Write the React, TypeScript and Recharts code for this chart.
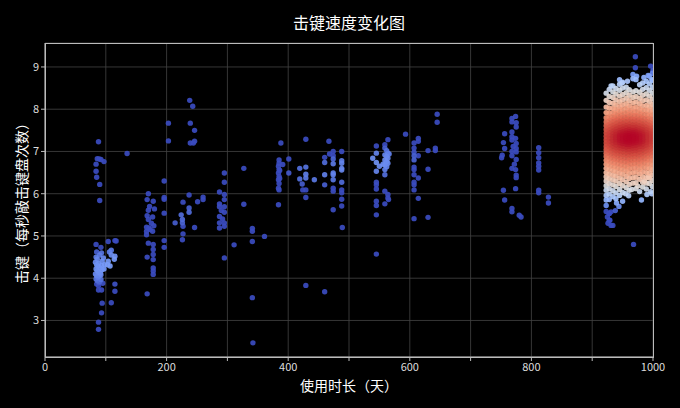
import React from 'react';
import { ScatterChart, Scatter, XAxis, YAxis, CartesianGrid } from 'recharts';

type P = [number, number];

// 使用时长（天）, 击键（每秒敲击键盘次数）
const early: P[] = [
  [84, 6.70], [84, 6.53], [85, 6.39], [86, 6.83], [88, 7.23], [89, 6.82], [92, 6.81], [97, 6.76], [90, 6.22], [90, 5.84],
  [84, 4.80], [85, 4.62], [84, 4.50], [86, 4.45], [83, 4.38], [85, 4.32], [87, 4.28], [84, 4.22], [86, 4.18], [88, 4.14],
  [83, 4.10], [85, 4.06], [87, 4.02], [84, 3.98], [86, 3.94], [89, 3.90], [85, 3.86], [88, 4.35], [90, 4.25], [91, 4.12],
  [89, 4.05], [92, 3.97], [90, 3.92], [88, 3.82], [92, 4.73], [93, 4.60], [94, 4.40], [93, 4.30], [94, 4.20], [92, 4.08],
  [95, 3.88], [93, 3.72], [88, 3.72], [94, 3.41], [93, 3.18], [88, 2.96], [88, 2.79], [90, 4.55], [96, 4.48], [97, 4.22],
  [98, 4.32], [104, 4.87], [106, 4.62], [104, 4.40], [109, 4.66], [109, 4.55], [109, 3.42], [115, 4.89], [115, 4.52],
  [114, 4.45], [115, 3.86], [115, 3.69], [135, 6.95], [103, 4.32], [107, 4.29], [117, 4.88],
];

const halfYear: P[] = [
  [170, 6.00], [168, 5.86], [178, 5.82], [170, 5.61], [180, 5.64], [168, 5.48], [177, 5.45], [170, 5.39], [179, 5.24],
  [167, 5.21], [171, 5.19], [167, 5.11], [177, 5.11], [167, 5.03], [170, 4.83], [178, 4.80], [178, 4.68], [168, 4.50],
  [178, 4.56], [178, 4.44], [178, 4.24], [178, 4.17], [178, 4.09], [168, 3.63], [175, 5.30], [172, 5.70], [173, 5.15],
  [196, 6.30], [196, 5.91], [196, 5.87], [196, 5.54], [196, 4.89], [196, 4.73], [203, 7.67], [203, 7.25],
  [214, 5.31], [224, 5.50], [226, 5.39], [226, 5.31], [227, 5.23], [227, 5.05], [226, 4.91], [227, 5.80], [237, 5.97],
  [237, 5.66], [237, 5.56], [251, 5.81], [260, 5.92], [260, 5.86], [246, 5.20], [239, 7.67], [246, 7.50], [239, 7.20],
  [246, 7.24], [244, 7.20], [238, 8.21], [243, 8.07],
];

const firstYear: P[] = [
  [295, 6.49], [295, 6.27], [287, 6.04], [295, 5.98], [295, 5.86], [287, 5.76], [287, 5.69], [295, 5.69], [295, 5.56],
  [287, 5.46], [287, 5.31], [287, 5.19], [295, 5.31], [295, 5.23], [295, 4.48], [290, 5.60], [292, 5.40],
  [327, 6.60], [327, 5.75], [311, 4.79], [341, 5.18], [341, 5.11], [341, 4.87], [341, 3.54], [342, 2.47], [361, 4.99],
  [385, 6.80], [385, 6.72], [384, 6.65], [385, 6.57], [384, 6.49], [385, 6.41], [384, 6.33], [385, 6.24], [384, 6.13],
  [385, 6.09], [384, 5.74], [388, 7.20], [391, 6.69], [386, 6.36], [386, 6.55], [401, 6.82], [401, 6.49],
  [419, 6.60], [419, 6.35], [423, 6.23], [424, 6.09], [429, 6.09], [429, 6.63], [429, 6.46], [429, 6.37], [429, 5.91],
  [429, 7.29], [429, 3.83], [443, 6.33], [460, 3.68], [460, 6.86], [460, 6.74], [460, 6.45], [460, 6.21], [467, 7.24],
  [468, 6.94], [474, 7.00], [474, 6.90], [474, 6.82], [474, 6.71], [474, 6.49], [474, 6.45], [474, 6.33], [474, 6.13],
  [474, 6.06], [474, 5.62], [488, 7.00], [488, 6.78], [488, 6.72], [488, 6.60], [488, 6.56], [488, 6.27], [488, 6.09],
  [488, 6.02], [488, 5.87], [488, 5.71], [489, 5.20],
];

const secondYear: P[] = [
  [545, 7.13], [545, 6.96], [539, 6.84], [545, 6.74], [550, 6.65], [545, 6.53], [545, 6.27], [545, 6.21], [545, 6.11],
  [545, 5.82], [545, 5.72], [545, 5.50], [545, 4.57], [564, 7.28], [559, 7.16], [559, 7.08], [562, 7.02], [564, 6.96],
  [559, 6.92], [562, 6.88], [564, 6.84], [559, 6.80], [562, 6.76], [564, 6.72], [559, 6.68], [562, 6.64], [559, 6.57],
  [559, 6.45], [559, 6.06], [564, 5.98], [564, 5.90], [565, 5.86], [559, 5.76], [556, 6.70], [566, 6.94],
  [607, 7.20], [607, 7.08], [607, 6.98], [607, 6.80], [607, 6.63], [607, 6.57], [607, 6.27], [607, 6.21], [607, 6.09],
  [607, 5.41], [607, 6.90], [607, 6.45], [614, 7.31], [614, 7.24], [614, 6.90], [614, 6.37], [614, 5.89], [593, 7.41],
  [630, 7.02], [630, 6.58], [630, 5.44], [642, 7.08], [642, 7.02], [645, 7.88], [645, 7.69],
  [774, 7.83], [768, 7.78], [768, 7.70], [775, 7.68], [775, 7.58], [756, 7.42], [768, 7.46], [768, 7.35], [768, 7.27],
  [774, 7.31], [775, 7.19], [775, 7.07], [754, 7.21], [756, 7.07], [752, 6.91], [751, 6.85], [775, 6.99], [775, 6.81],
  [768, 6.60], [774, 6.57], [775, 6.44], [775, 6.38], [774, 6.12], [754, 6.08], [756, 5.85], [768, 5.65], [768, 5.57],
  [780, 5.49], [783, 5.45], [768, 7.00], [770, 7.12], [768, 6.90], [772, 6.70],
  [812, 7.09], [812, 6.97], [812, 6.85], [812, 6.73], [812, 6.65], [812, 6.56], [812, 6.08], [812, 6.02], [828, 5.92],
  [828, 5.78],
];

const recentDays = [923, 928, 934, 939, 945, 950, 956, 961, 967, 972, 978, 983, 989, 994, 999];
const recentSpeeds: number[][] = [
  [8.38, 8.21, 8.05, 7.92, 7.80, 7.70, 7.61, 7.52, 7.44, 7.36, 7.28, 7.20, 7.12, 7.04, 6.96, 6.88, 6.79, 6.70, 6.60, 6.50, 6.40, 6.30, 6.19, 6.08, 5.96, 5.85, 5.72, 5.58],
  [8.47, 8.30, 8.16, 8.03, 7.91, 7.81, 7.72, 7.64, 7.57, 7.49, 7.42, 7.35, 7.27, 7.19, 7.11, 7.03, 6.95, 6.86, 6.77, 6.68, 6.58, 6.47, 6.36, 6.24, 6.12, 5.99, 5.86, 5.53, 5.37],
  [8.55, 8.41, 8.28, 8.14, 8.02, 7.92, 7.83, 7.75, 7.68, 7.61, 7.54, 7.47, 7.41, 7.34, 7.27, 7.21, 7.14, 7.07, 6.99, 6.91, 6.83, 6.74, 6.65, 6.55, 6.44, 6.33, 6.21, 6.07, 5.93, 5.25],
  [8.49, 8.36, 8.22, 8.10, 7.99, 7.89, 7.80, 7.72, 7.65, 7.58, 7.52, 7.46, 7.40, 7.34, 7.28, 7.22, 7.16, 7.10, 7.03, 6.96, 6.89, 6.81, 6.72, 6.63, 6.53, 6.42, 6.30, 6.17, 6.02, 5.88],
  [8.59, 8.45, 8.31, 8.18, 8.06, 7.95, 7.85, 7.77, 7.69, 7.62, 7.56, 7.50, 7.44, 7.38, 7.33, 7.27, 7.21, 7.15, 7.09, 7.02, 6.95, 6.87, 6.79, 6.70, 6.60, 6.49, 6.37, 6.24, 6.10, 5.96],
  [8.64, 8.50, 8.35, 8.22, 8.10, 7.99, 7.89, 7.80, 7.72, 7.65, 7.58, 7.52, 7.46, 7.41, 7.36, 7.30, 7.25, 7.19, 7.13, 7.07, 7.00, 6.93, 6.85, 6.76, 6.67, 6.57, 6.46, 6.33, 6.19, 6.03],
  [8.52, 8.39, 8.26, 8.13, 8.02, 7.92, 7.83, 7.75, 7.68, 7.61, 7.55, 7.49, 7.43, 7.38, 7.33, 7.28, 7.23, 7.17, 7.11, 7.05, 6.98, 6.91, 6.83, 6.74, 6.64, 6.53, 6.41, 6.28, 6.14],
  [8.46, 8.33, 8.20, 8.08, 7.97, 7.88, 7.79, 7.71, 7.64, 7.58, 7.52, 7.47, 7.42, 7.37, 7.32, 7.27, 7.22, 7.17, 7.12, 7.06, 7.00, 6.93, 6.86, 6.78, 6.69, 6.59, 6.48, 6.36, 6.22, 6.08],
  [8.72, 8.41, 8.28, 8.15, 8.03, 7.93, 7.84, 7.76, 7.69, 7.62, 7.56, 7.50, 7.45, 7.40, 7.35, 7.30, 7.25, 7.20, 7.14, 7.08, 7.02, 6.95, 6.88, 6.80, 6.71, 6.61, 6.50, 6.38, 6.25],
  [8.70, 8.44, 8.30, 8.17, 8.05, 7.94, 7.85, 7.77, 7.70, 7.63, 7.57, 7.51, 7.46, 7.41, 7.36, 7.31, 7.26, 7.21, 7.15, 7.09, 7.03, 6.96, 6.89, 6.81, 6.72, 6.62, 6.51, 6.39, 6.26, 6.12],
  [8.58, 8.40, 8.26, 8.13, 8.01, 7.91, 7.82, 7.74, 7.67, 7.60, 7.54, 7.48, 7.43, 7.38, 7.33, 7.28, 7.23, 7.18, 7.12, 7.06, 7.00, 6.93, 6.85, 6.77, 6.68, 6.58, 6.47, 6.34],
  [8.62, 8.47, 8.33, 8.20, 8.08, 7.97, 7.87, 7.78, 7.70, 7.63, 7.57, 7.51, 7.45, 7.40, 7.35, 7.29, 7.24, 7.18, 7.12, 7.05, 6.98, 6.90, 6.82, 6.73, 6.63, 6.52, 6.40, 6.27],
  [8.66, 8.51, 8.36, 8.22, 8.09, 7.98, 7.88, 7.79, 7.71, 7.64, 7.57, 7.51, 7.45, 7.39, 7.34, 7.28, 7.22, 7.16, 7.10, 7.03, 6.96, 6.88, 6.80, 6.71, 6.61, 6.50, 6.38, 6.25, 6.11],
  [8.78, 8.60, 8.45, 8.31, 8.18, 8.06, 7.95, 7.85, 7.76, 7.68, 7.61, 7.54, 7.48, 7.42, 7.36, 7.30, 7.24, 7.18, 7.11, 7.04, 6.97, 6.89, 6.80, 6.70, 6.60, 6.49, 6.37, 6.24],
  [8.85, 8.68, 8.52, 8.38, 8.24, 8.11, 7.99, 7.88, 7.78, 7.69, 7.61, 7.53, 7.46, 7.39, 7.32, 7.25, 7.18, 7.11, 7.03, 6.95, 6.86, 6.77, 6.67, 6.56, 6.44, 6.31, 6.17],
];

const recentExtra: P[] = [
  [971, 9.24], [971, 8.98], [996, 9.02], [967, 8.82], [973, 8.78], [992, 8.80], [931, 8.55], [945, 8.70], [949, 8.62],
  [958, 8.66], [985, 8.75], [1000, 8.92], [998, 8.70],
  [928, 5.53], [931, 5.57], [929, 5.37], [931, 5.25], [968, 4.80], [981, 5.85], [983, 6.16], [955, 6.00], [960, 5.95],
  [965, 6.10], [975, 6.18], [978, 6.05], [990, 5.98], [996, 6.05], [950, 5.82], [944, 5.70], [938, 5.60], [925, 5.45],
  [926, 5.30], [940, 5.78], [986, 6.30], [993, 6.40], [998, 6.00],
];

const xTicks = [0, 100, 200, 300, 400, 500, 600, 700, 800, 900, 1000];
const yTicks = [3, 4, 5, 6, 7, 8, 9];

const COOLWARM: number[][] = [
  [59, 76, 192], [68, 90, 204], [77, 104, 215], [87, 117, 225], [98, 130, 234], [108, 142, 241], [119, 154, 247],
  [130, 165, 251], [141, 176, 254], [152, 185, 255], [163, 194, 255], [174, 201, 253], [184, 208, 249], [194, 213, 244],
  [204, 217, 238], [213, 219, 230], [221, 221, 221], [229, 216, 209], [236, 211, 197], [241, 204, 185], [245, 196, 173],
  [247, 187, 160], [247, 177, 148], [247, 166, 135], [244, 154, 123], [241, 141, 111], [236, 127, 99], [229, 112, 88],
  [222, 96, 77], [213, 80, 66], [203, 62, 56], [192, 40, 47], [180, 4, 38],
];

function coolwarm(t: number): string {
  const v = Math.max(0, Math.min(1, t)) * (COOLWARM.length - 1);
  const i = Math.min(COOLWARM.length - 2, Math.floor(v));
  const f = v - i;
  const a = COOLWARM[i], b = COOLWARM[i + 1];
  const c = a.map((x, k) => Math.round(x + (b[k] - x) * f));
  return `rgb(${c[0]},${c[1]},${c[2]})`;
}

const raw: P[] = [
  ...early, ...halfYear, ...firstYear, ...secondYear,
  ...recentDays.flatMap((d, i) => recentSpeeds[i].map((s) => [d, s] as P)),
  ...recentExtra,
];

// density estimate used only to colour the points
const BX = 72;
const BY = 0.34;
const dens = raw.map(([x, y]) => {
  let s = 0;
  for (const [a, b] of raw) {
    const dx = (x - a) / BX;
    const dy = (y - b) / BY;
    const dx2 = dx * dx;
    s += Math.exp(-0.5 * (dx2 * dx2 + dy * dy));
  }
  return s;
});
const dMin = Math.min(...dens);
const dMax = Math.max(...dens);
const level = (d: number) => {
  const t = (d - dMin) / (dMax - dMin);
  return Math.pow(Math.max(0, (t - 0.15) / 0.85), 0.62);
};
const points = raw
  .map(([x, y], i) => ({ x, y, d: dens[i], color: coolwarm(level(dens[i])) }))
  .sort((p, q) => p.d - q.d);

const FONT = '"Noto Sans CJK SC", "Noto Sans", sans-serif';

const Dot = (p: any) => <circle cx={p.cx} cy={p.cy} r={2.7} fill={p.payload.color} fillOpacity={0.92} />;

export default function App() {
  return (
    <div style={{ position: 'absolute', left: 0, top: 0, width: 680, height: 408, background: '#000', overflow: 'hidden', fontFamily: FONT }}>
      <ScatterChart width={680} height={408} margin={{ top: 43, right: 27, bottom: 21, left: 0 }}>
        <CartesianGrid stroke="#444" strokeWidth={0.8} />
        <XAxis
          type="number"
          dataKey="x"
          domain={[0, 1000]}
          ticks={xTicks}
          allowDataOverflow
          height={30}
          tickFormatter={(v: number) => (v % 200 === 0 ? String(v) : '')}
          stroke="#bbb"
          tickSize={4}
          tick={{ fill: '#dddddd', fontSize: 11, fontFamily: FONT }}
        />
        <YAxis
          type="number"
          dataKey="y"
          domain={[2.135, 9.567]}
          ticks={yTicks}
          allowDataOverflow
          width={45}
          stroke="#bbb"
          tickSize={4}
          tick={{ fill: '#dddddd', fontSize: 11, fontFamily: FONT }}
        />
        <Scatter data={points} isAnimationActive={false} shape={Dot} />
      </ScatterChart>
      <div style={{ position: 'absolute', left: 45, top: 43, width: 607, height: 313, border: '1px solid #bbb', pointerEvents: 'none' }} />
      <div style={{ position: 'absolute', left: 45, top: 11, width: 608, textAlign: 'center', color: '#fff', fontSize: 16, lineHeight: '22px' }}>
        击键速度变化图
      </div>
      <div style={{ position: 'absolute', left: 45, top: 376, width: 608, textAlign: 'center', color: '#fff', fontSize: 14, lineHeight: '18px' }}>
        使用时长（天）
      </div>
      <div style={{ position: 'absolute', left: 21 - 150, top: 200 - 9, width: 300, height: 18, textAlign: 'center', color: '#fff', fontSize: 14, lineHeight: '18px', transform: 'rotate(-90deg)', transformOrigin: '150px 9px' }}>
        击键（每秒敲击键盘次数）
      </div>
    </div>
  );
}
